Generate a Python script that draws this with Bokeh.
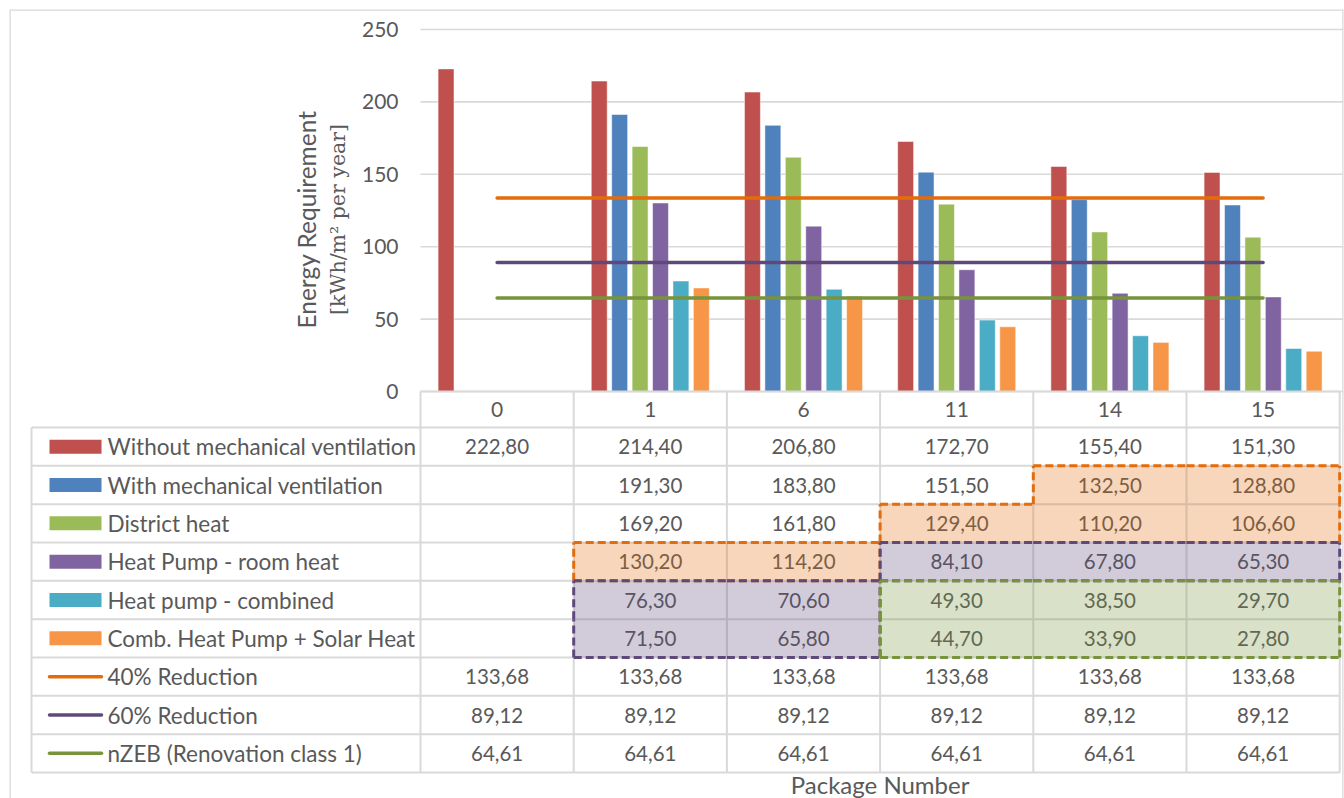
import numpy as np
from bokeh.plotting import figure
from bokeh.models import Range1d, FixedTicker, LinearAxis
from bokeh.embed import file_html
from bokeh.resources import INLINE
from bokeh.core.properties import value

# ---------------- data ----------------
packages = ["0", "1", "6", "11", "14", "15"]
bar_names = ["Without mechanical ventilation", "With mechanical ventilation", "District heat",
             "Heat Pump - room heat", "Heat pump - combined", "Comb. Heat Pump + Solar Heat"]
without_mv = [222.80, 214.40, 206.80, 172.70, 155.40, 151.30]
with_mv = [None, 191.30, 183.80, 151.50, 132.50, 128.80]
district_heat = [None, 169.20, 161.80, 129.40, 110.20, 106.60]
hp_room = [None, 130.20, 114.20, 84.10, 67.80, 65.30]
hp_combined = [None, 76.30, 70.60, 49.30, 38.50, 29.70]
hp_solar = [None, 71.50, 65.80, 44.70, 33.90, 27.80]
line_names = ["40% Reduction", "60% Reduction", "nZEB (Renovation class 1)"]
red_40 = [133.68, 133.68, 133.68, 133.68, 133.68, 133.68]
red_60 = [89.12, 89.12, 89.12, 89.12, 89.12, 89.12]
nzeb = [64.61, 64.61, 64.61, 64.61, 64.61, 64.61]
y_ticks = [0, 50, 100, 150, 200, 250]
x_title = "Package Number"
y_title_1 = "Energy Requirement"
y_title_2 = "[kWh/m\u00b2 per year]"

bar_series = [without_mv, with_mv, district_heat, hp_room, hp_combined, hp_solar]
bar_colors = ["#C0504D", "#4F81BD", "#9BBB59", "#8064A2", "#4BACC6", "#F79646"]
line_series = [red_40, red_60, nzeb]
line_colors = ["#E46C0A", "#5F497A", "#77933C"]

TXT = "#595959"
GRID = "#D9D9D9"
FONT = "Lato"

# ---------------- layout constants (pixels) ----------------
W, HT = 1344, 798
FX0, FX1, FY0 = 9, 1343, 9          # frame edges
X0, COL = 420, 153.2                # first package column, column width
TL = 31                             # table left edge
ROW = 38.33                         # table row height
T_BOT = 772                         # table bottom
Y0, K = 391, 362 / 250              # value 0 position, px per unit
TITLE_X = (306, 337)                # centres of the two y-title lines
TITLE_Y = 219                       # vertical centre of the y title

nc = len(packages)
N = len(bar_series) + len(line_series)
L = (X0 - TL) / COL
HDR = (T_BOT - Y0) / ROW            # top of header row in row units

xr = Range1d((FX0 - X0) / COL, (FX1 - X0) / COL)
yr = Range1d((T_BOT - HT) / ROW, (T_BOT - FY0) / ROW)
cr = Range1d((Y0 - HT) / K, (Y0 - FY0) / K)

p = figure(width=W, height=HT, x_range=xr, y_range=yr,
           output_backend="svg", toolbar_location=None,
           x_axis_location=None, y_axis_location=None,
           min_border_left=FX0, min_border_right=W - FX1, min_border_top=FY0, min_border_bottom=0,
           outline_line_color=None, background_fill_color="white", border_fill_color="white")
p.extra_y_ranges = {"chart": cr}
p.grid.visible = False

# outer chart border (left, top, right)
p.segment(x0=[xr.start, xr.start, xr.end], y0=[yr.start, yr.end, yr.start],
          x1=[xr.start, xr.end, xr.end], y1=[yr.end, yr.end, yr.end],
          line_color=GRID, line_width=2.5)

# value grid lines
p.segment(x0=[0] * len(y_ticks), x1=[xr.end] * len(y_ticks), y0=y_ticks, y1=y_ticks,
          y_range_name="chart", line_color=GRID, line_width=1.6)

# y axis (ticks only, drawn at the first package column)
ax = LinearAxis(y_range_name="chart", fixed_location=0, bounds=(0, 250),
                ticker=FixedTicker(ticks=y_ticks),
                axis_line_color=None, major_tick_line_color=None, minor_tick_line_color=None,
                major_label_standoff=16, major_label_text_font=FONT,
                major_label_text_font_size="21px", major_label_text_color=TXT)
p.add_layout(ax, "left")

# y title (two lines, rotated)
ty = (Y0 - TITLE_Y) / K
p.text(x=[(TITLE_X[0] - X0) / COL], y=[ty], text=[y_title_1], angle=np.pi / 2,
       y_range_name="chart", text_align="center", text_baseline="middle",
       text_font=value(FONT), text_font_size=value("24.5px"), text_color=TXT)
p.text(x=[(TITLE_X[1] - X0) / COL], y=[ty], text=[y_title_2], angle=np.pi / 2,
       y_range_name="chart", text_align="center", text_baseline="middle",
       text_font=value("DejaVu Serif"), text_font_size=value("20.5px"), text_color=TXT)

# bars
step, bw = 0.1333, 0.104
for j, (s, color) in enumerate(zip(bar_series, bar_colors)):
    off = (j - (len(bar_series) - 1) / 2) * step
    xs = [i + 0.5 + off for i, v in enumerate(s) if v is not None]
    tops = [v for v in s if v is not None]
    p.vbar(x=xs, top=tops, bottom=0, width=bw, y_range_name="chart",
           fill_color=color, line_color="white", line_alpha=0.5, line_width=1)

# reference lines
for s, color in zip(line_series, line_colors):
    p.line(x=[i + 0.5 for i in range(nc)], y=s, y_range_name="chart",
           line_color=color, line_width=3.5, line_cap="round")

# ---------------- data table ----------------
x0, y0, x1, y1 = [], [], [], []
for k in range(N + 1):
    x0.append(-L); x1.append(nc); y0.append(N - k); y1.append(N - k)
x0.append(0); x1.append(nc); y0.append(HDR); y1.append(HDR)
x0.append(-L); x1.append(-L); y0.append(0); y1.append(N)
for i in range(nc + 1):
    x0.append(i); x1.append(i); y0.append(0); y1.append(HDR)
p.segment(x0=x0, y0=y0, x1=x1, y1=y1, line_color=GRID, line_width=2)

# header labels
p.text(x=[i + 0.5 for i in range(nc)], y=[(N + HDR) / 2] * nc, text=packages,
       text_align="center", text_baseline="middle", text_font=value(FONT),
       text_font_size=value("21px"), text_color=TXT)

# values
all_series = bar_series + line_series
vx, vy, vt = [], [], []
for k, s in enumerate(all_series):
    for i, v in enumerate(s):
        if v is None:
            continue
        vx.append(i + 0.5); vy.append(N - k - 0.5)
        vt.append(f"{v:.2f}".replace(".", ","))
p.text(x=vx, y=vy, text=vt, text_align="center", text_baseline="middle",
       text_font=value(FONT), text_font_size=value("20.5px"), text_color=TXT)

# legend column
nb = len(bar_series)
p.rect(x=[-L + 44 / COL] * nb, y=[N - k - 0.5 for k in range(nb)], width=52, height=14,
       width_units="screen", height_units="screen", fill_color=bar_colors, line_color=None)
nl = len(line_series)
p.segment(x0=[-L + 18 / COL] * nl, x1=[-L + 70 / COL] * nl,
          y0=[N - nb - k - 0.5 for k in range(nl)], y1=[N - nb - k - 0.5 for k in range(nl)],
          line_color=line_colors, line_width=3.5, line_cap="round")
p.text(x=[-L + 76 / COL] * N, y=[N - k - 0.5 for k in range(N)], text=bar_names + line_names,
       text_align="left", text_baseline="middle", text_font=value(FONT),
       text_font_size=value("22.5px"), text_color=TXT)

# highlight groups from thresholds
groups = [[], [], []]
for k, s in enumerate(bar_series):
    for i, v in enumerate(s):
        if v is None:
            continue
        if v <= nzeb[i]:
            groups[2].append((k, i))
        elif v <= red_60[i]:
            groups[1].append((k, i))
        elif v <= red_40[i]:
            groups[0].append((k, i))

for cells, color in zip(groups, line_colors):
    p.quad(left=[i for k, i in cells], right=[i + 1 for k, i in cells],
           bottom=[N - k - 1 for k, i in cells], top=[N - k for k, i in cells],
           fill_color=color, fill_alpha=0.28, line_color=None)

for cells, color in zip(groups, line_colors):
    cs = set(cells)
    ex0, ey0, ex1, ey1 = [], [], [], []
    for (k, i) in cells:
        top, bot = N - k, N - k - 1
        if (k - 1, i) not in cs:
            ex0.append(i); ex1.append(i + 1); ey0.append(top); ey1.append(top)
        if (k + 1, i) not in cs:
            ex0.append(i); ex1.append(i + 1); ey0.append(bot); ey1.append(bot)
        if (k, i - 1) not in cs:
            ex0.append(i); ex1.append(i); ey0.append(bot); ey1.append(top)
        if (k, i + 1) not in cs:
            ex0.append(i + 1); ex1.append(i + 1); ey0.append(bot); ey1.append(top)
    p.segment(x0=ex0, y0=ey0, x1=ex1, y1=ey1, line_color=color, line_width=3, line_dash="8 4")

# x title
p.text(x=[nc / 2], y=[-12 / ROW], text=[x_title], text_align="center", text_baseline="middle",
       text_font=value(FONT), text_font_size=value("24px"), text_color=TXT)

open("out.html", "w").write(file_html(p, INLINE, "Energy Requirement"))
